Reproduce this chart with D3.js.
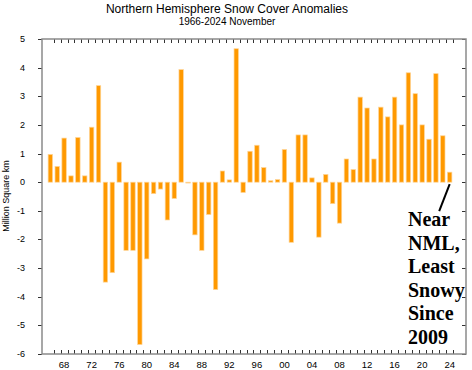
<!DOCTYPE html>
<html>
<head>
<meta charset="utf-8">
<script src="https://cdn.jsdelivr.net/npm/d3@7"></script>
<style>
  body { margin: 0; background: #fff; }
  svg { display: block; font-family: "Liberation Sans", Arial, sans-serif; }
</style>
</head>
<body>
<svg id="chart" width="472" height="370"></svg>
<script>
// November NH snow cover anomalies, million km2
var years = d3.range(1966, 2025);
var anomalies = [
	0.97, 0.55, 1.54, 0.22, 1.56, 0.22, 1.92, 3.37, -3.49, -3.16,
	0.70, -2.38, -2.38, -5.67, -2.68, -0.40, -0.24, -1.32, -0.57, 3.93,
	-0.03, -1.84, -2.38, -1.13, -3.75, 0.39, 0.08, 4.66, -0.36, 1.08,
	1.29, 0.51, 0.05, 0.09, 1.14, -2.10, 1.65, 1.65, 0.15, -1.92,
	0.27, -0.75, -1.43, 0.81, 0.44, 2.97, 2.59, 0.81, 2.62, 2.28,
	2.97, 2.00, 3.82, 3.09, 2.00, 1.50, 3.79, 1.62, 0.35
];
var yTicks = d3.range(-6, 6);
var xLabelYears = d3.range(1968, 2025, 4);
var noteLines = ['Near', 'NML,', 'Least', 'Snowy', 'Since', '2009'];

var svg = d3.select('#chart');
// plot box (note: "top" is reserved on window, so use pTop etc.)
var pLeft = 42, pRight = 466, pTop = 39, pBottom = 354;
var frameColor = '#8a8a8a';

var x = d3.scaleLinear().domain([1964.79, 2026.37]).range([pLeft, pRight]);
var y = d3.scaleLinear().domain([-6, 5]).range([pBottom, pTop]);

// titles
svg.append('text').attr('x', 227).attr('y', 13).attr('text-anchor', 'middle')
	.style('font-size', '12px').text('Northern Hemisphere Snow Cover Anomalies');
svg.append('text').attr('x', 227).attr('y', 25).attr('text-anchor', 'middle')
	.style('font-size', '10px').text('1966-2024 November');

// bars
var barW = 4.4;
svg.append('g').attr('class', 'bars').selectAll('rect')
	.data(anomalies).enter().append('rect')
	.attr('x', function (d, i) { return x(years[i]) - barW / 2; })
	.attr('y', function (d) { return y(Math.max(0, d)); })
	.attr('width', barW)
	.attr('height', function (d) { return Math.abs(y(d) - y(0)); })
	.style('fill', '#ff9900')
	.style('stroke', '#ffd596')
	.style('stroke-width', 0.7);

// year ticks (between bars) on top and bottom, pointing inward
var yearTicks = years.map(function (yr) { return yr + 0.5; });
var tk = svg.append('g').attr('class', 'xticks').style('stroke', '#333').style('stroke-width', 1);
yearTicks.forEach(function (t) {
	var px = Math.round(x(t)) + 0.5;
	tk.append('line').attr('x1', px).attr('x2', px).attr('y1', pTop).attr('y2', pTop + 4);
	tk.append('line').attr('x1', px).attr('x2', px).attr('y1', pBottom).attr('y2', pBottom - 4);
});

// value ticks: left outward, right inward
var vt = svg.append('g').attr('class', 'yticks').style('stroke', '#333').style('stroke-width', 1);
yTicks.forEach(function (v) {
	var py = Math.round(y(v)) + 0.5;
	vt.append('line').attr('x1', pLeft - 4).attr('x2', pLeft).attr('y1', py).attr('y2', py);
	vt.append('line').attr('x1', pRight - 4).attr('x2', pRight).attr('y1', py).attr('y2', py);
});

// frame
svg.append('rect').attr('x', pLeft).attr('y', pTop)
	.attr('width', pRight - pLeft).attr('height', pBottom - pTop)
	.style('fill', 'none').style('stroke', frameColor).style('stroke-width', 1.5);

// tick labels
svg.append('g').selectAll('text').data(yTicks).enter().append('text')
	.attr('x', 25).attr('y', function (d) { return y(d) + 3; })
	.attr('text-anchor', 'end').style('font-size', '9px')
	.text(function (d) { return d; });

svg.append('g').selectAll('text').data(xLabelYears).enter().append('text')
	.attr('x', function (d) { return x(d); }).attr('y', 368)
	.attr('text-anchor', 'middle').style('font-size', '9.5px')
	.text(function (d) { return String(d).slice(2); });

svg.append('text')
	.attr('transform', 'translate(9,196) rotate(-90)')
	.attr('text-anchor', 'middle').style('font-size', '9px')
	.text('Million Square km');

// annotation
var last = anomalies.length - 1;
svg.append('line')
	.attr('x1', x(years[last])).attr('y1', y(0) + 2)
	.attr('x2', x(years[last]) - 10.5).attr('y2', y(0) + 29)
	.style('stroke', '#000').style('stroke-width', 2);

svg.append('g').selectAll('text').data(noteLines).enter().append('text')
	.attr('x', 408).attr('y', function (d, i) { return 226 + i * 23.6; })
	.style('font-family', '"Liberation Serif", "Times New Roman", serif')
	.style('font-weight', 'bold').style('font-size', '20px')
	.text(function (d) { return d; });
</script>
</body>
</html>
